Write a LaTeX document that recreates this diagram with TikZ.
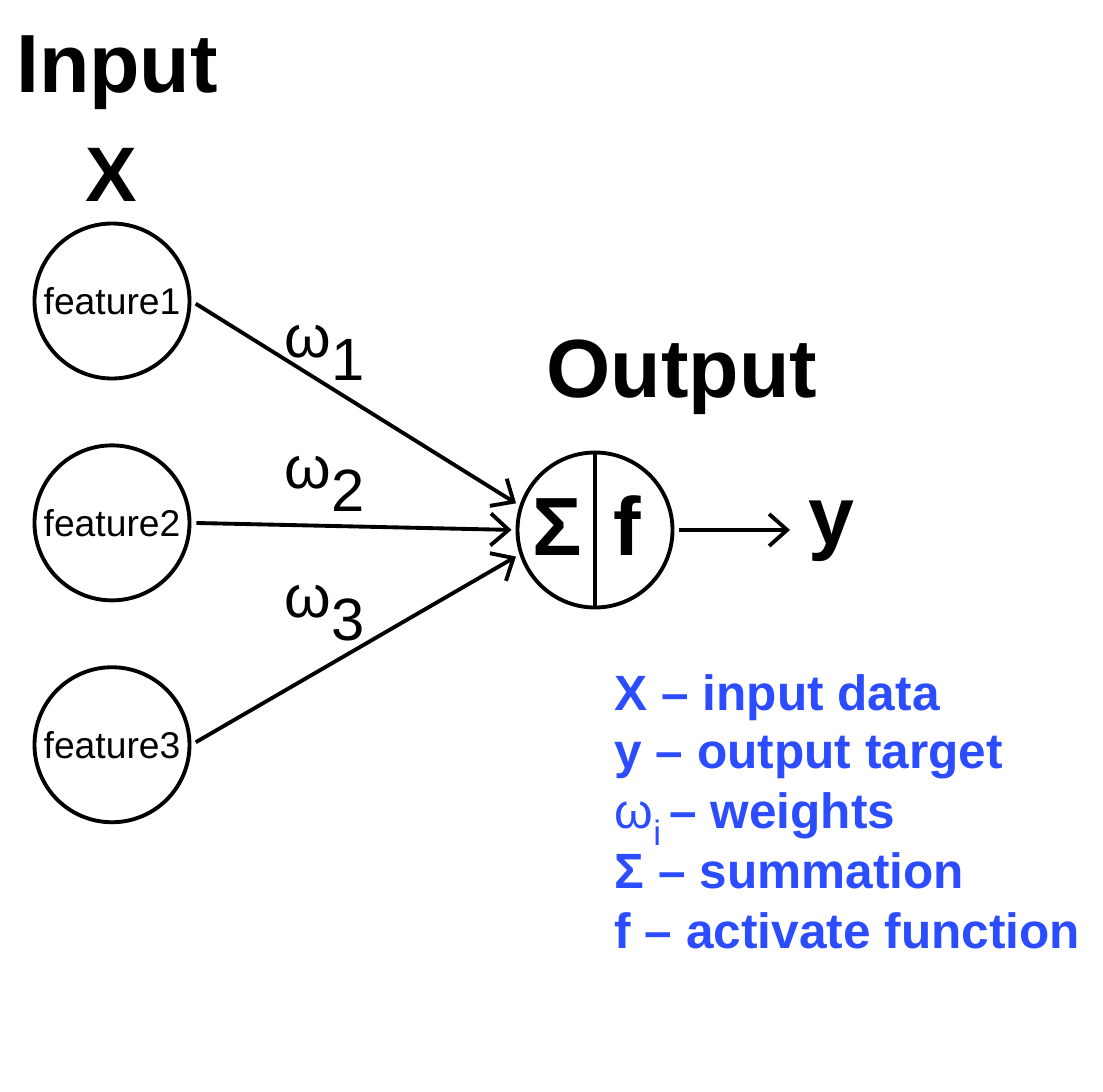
\documentclass[tikz,border=0pt]{standalone}
\usepackage{fontspec}
\setmainfont{Liberation Sans}
\usetikzlibrary{positioning,arrows.meta}
\definecolor{legendblue}{RGB}{44,77,255}
\tikzset{
  feat/.style={draw, circle, line width=1.1pt, minimum size=1.55cm, inner sep=0pt,
               font=\fontsize{10.6}{13}\selectfont},
  neuron/.style={draw, circle, line width=1.1pt, minimum size=1.55cm, inner sep=0pt},
  title/.style={font=\fontsize{23.5}{28}\selectfont\bfseries, inner sep=0pt},
  wgt/.style={font=\fontsize{17}{20}\selectfont, inner sep=0pt},
  flow/.style={-{Straight Barb[length=1.8mm, width=3.2mm]}, line width=1.1pt},
  legend/.style={font=\fontsize{14.1}{17}\selectfont\bfseries, text=legendblue,
                 inner sep=0pt, anchor=base west},
}
\newcommand{\wsub}[1]{\raisebox{-0.4em}{#1}}

\begin{document}
\begin{tikzpicture}
  \useasboundingbox (0,0) rectangle (11.03,-10.91);
  % input side
  \node[title, anchor=base] (intitle) at (1.17,-0.93) {Input};
  \node[title, anchor=base, font=\fontsize{22}{26}\selectfont\bfseries] (inx) at (1.11,-2.01) {X};
  \node[feat] (f1) at (1.12,-3.01) {feature1};
  \node[feat, below=0.63cm of f1] (f2) {feature2};
  \node[feat, below=0.63cm of f2] (f3) {feature3};
  % neuron
  \node[neuron] (out) at (5.95,-5.30) {};
  \draw[line width=1.1pt] (out.north) -- (out.south);
  \node[title, anchor=base] (sum) at (5.57,-5.55) {Σ};
  \node[title, anchor=base] (act) at (6.27,-5.55) {f};
  \node[title, anchor=base] (outtitle) at (6.82,-3.97) {Output};
  \node[title, anchor=base west] (y) at (8.08,-5.44) {y};
  % weights
  \foreach \i/\a/\yy in {1/162/-3.57, 2/180/-4.88, 3/198/-6.17} {
    \draw[flow, shorten <=0.5mm, shorten >=0.4mm] (f\i.east) -- (out.\a);
    \node[wgt, anchor=base west] (w\i) at (2.84,\yy) {ω\wsub{\i}};
  }
  \draw[flow, shorten <=0.5mm, shorten >=1.8mm] (out.east) -- (out.east -| y.west);
  % legend
  \node[legend] (leg1) at (6.14,-7.10) {X – input data};
  \node[legend] (leg2) at (6.14,-7.68) {y – output target};
  \node[legend] (leg3) at (6.14,-8.28) {{\mdseries ω\raisebox{-0.35em}{\fontsize{10}{12}\selectfont i}}\,– weights};
  \node[legend] (leg4) at (6.14,-8.88) {Σ – summation};
  \node[legend] (leg5) at (6.14,-9.48) {f – activate function};
\end{tikzpicture}
\end{document}
